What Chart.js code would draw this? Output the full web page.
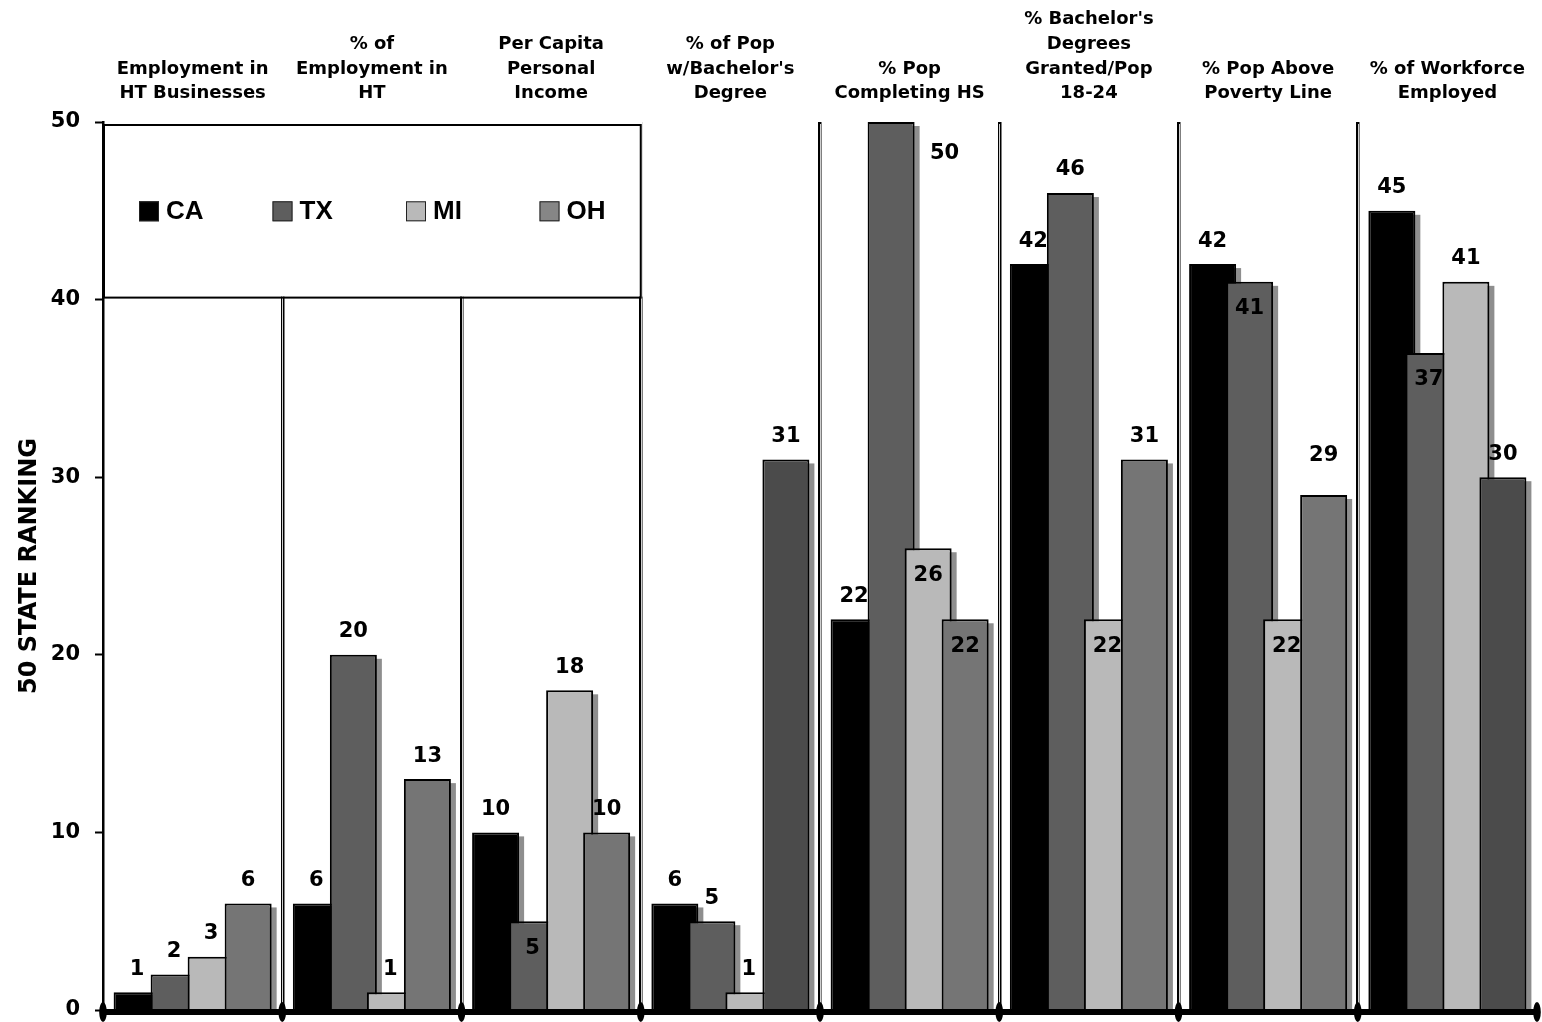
<!DOCTYPE html>
<html>
<head>
<meta charset="utf-8">
<title>50 State Ranking</title>
<script src="https://cdn.jsdelivr.net/npm/chart.js@4.4.1/dist/chart.umd.min.js"></script>
<style>
  html, body { margin: 0; padding: 0; background: #fff; overflow: hidden; }
  canvas { display: block; }
</style>
</head>
<body>
<canvas id="chart" width="1542" height="1022"></canvas>
<script>
// ---- data ----
const categories = [
  ['Employment in', 'HT Businesses'],
  ['% of', 'Employment in', 'HT'],
  ['Per Capita', 'Personal', 'Income'],
  ['% of Pop', "w/Bachelor's", 'Degree'],
  ['% Pop', 'Completing HS'],
  ["% Bachelor's", 'Degrees', 'Granted/Pop', '18-24'],
  ['% Pop Above', 'Poverty Line'],
  ['% of Workforce', 'Employed']
];
const seriesNames = ['CA', 'TX', 'MI', 'OH'];
const caRank = [1, 6, 10, 6, 22, 42, 42, 45];
const txRank = [2, 20, 5, 5, 50, 46, 41, 37];
const miRank = [3, 1, 18, 1, 26, 22, 22, 41];
const ohRank = [6, 13, 10, 31, 22, 31, 29, 30];
const yTicks = [0, 10, 20, 30, 40, 50];
const yTitle = '50 STATE RANKING';

// ---- styles ----
const FONT = "'DejaVu Sans', Verdana, sans-serif";
const LEGEND_FONT = "'Liberation Sans', Arial, sans-serif";
const caFill = '#000000';
const txFill = '#5e5e5e';
const miFill = '#b9b9b9';
const ohFill = ['#757575', '#757575', '#757575', '#4b4b4b', '#757575', '#757575', '#757575', '#4b4b4b'];
const legendFill = [caFill, txFill, miFill, '#868686'];
const SHADOW = '#8e8e8e';

// where each value label sits relative to its bar
const caPlace = ['above', 'above', 'above', 'above', 'above', 'above', 'above', 'above'];
const txPlace = ['above', 'above', 'inside', 'above', 'right', 'above', 'inside', 'inside'];
const miPlace = ['above', 'above', 'above', 'above', 'inside', 'inside', 'inside', 'above'];
const ohPlace = ['above', 'above', 'above', 'above', 'inside', 'above', 'high', 'above'];
const placements = [caPlace, txPlace, miPlace, ohPlace];

function categoryEdge(chart, i) {
  const xs = chart.scales.x, area = chart.chartArea;
  const n = chart.data.labels.length;
  if (i <= 0) return area.left;
  if (i >= n) return area.right;
  return (xs.getPixelForValue(i - 1) + xs.getPixelForValue(i)) / 2;
}

// Bars drawn left to right inside each group so the right-hand bar overlaps,
// each with an offset drop shadow underneath.
const shadedBars = {
  id: 'shadedBars',
  beforeDatasetsDraw(chart) {
    const ctx = chart.ctx, area = chart.chartArea;
    const n = chart.data.labels.length;
    ctx.save();
    // light core of the double category dividers
    ctx.strokeStyle = '#d0d0d0';
    ctx.lineWidth = 1;
    for (let i = 1; i < n; i++) {
      const bx = Math.round(categoryEdge(chart, i)) + 0.5;
      ctx.beginPath();
      ctx.moveTo(bx, area.top + 2);
      ctx.lineTo(bx, area.bottom);
      ctx.stroke();
    }
    chart.data.datasets.forEach((ds, di) => {
      const meta = chart.getDatasetMeta(di);
      meta.data.forEach(bar => {
        const p = bar.getProps(['x', 'y', 'base', 'width'], true);
        ctx.fillStyle = SHADOW;
        ctx.fillRect(p.x - p.width / 2 + 5, p.y + 4, p.width, p.base - p.y - 4);
        bar.draw(ctx, area);
      });
    });
    ctx.restore();
    return false;
  }
};

// Heavy baseline, category tick marks, boxed legend and value labels.
const overlay = {
  id: 'overlay',
  afterDraw(chart) {
    const ctx = chart.ctx, area = chart.chartArea;
    const ys = chart.scales.y;
    const n = chart.data.labels.length;
    const y0 = ys.getPixelForValue(0);
    ctx.save();

    // baseline
    ctx.fillStyle = '#000';
    ctx.fillRect(area.left, y0 - 1, area.right - area.left, 6);
    for (let i = 0; i <= n; i++) {
      const bx = categoryEdge(chart, i);
      ctx.beginPath();
      ctx.ellipse(bx, y0 + 2, 3.8, 10, 0, 0, Math.PI * 2);
      ctx.fill();
    }

    // legend box
    const boxL = area.left + 1;
    const boxR = categoryEdge(chart, 3);
    const boxT = area.top + 3;
    const boxB = ys.getPixelForValue(40) - 2;
    ctx.fillStyle = '#fff';
    ctx.fillRect(area.left + 2, area.top - 1, boxR - area.left, boxB - area.top);
    ctx.strokeStyle = '#000';
    ctx.lineWidth = 2;
    ctx.strokeRect(boxL, boxT, boxR - boxL, boxB - boxT);
    const midY = (boxT + boxB) / 2;
    ctx.font = `bold 26px ${LEGEND_FONT}`;
    ctx.textAlign = 'left';
    ctx.textBaseline = 'middle';
    chart.data.datasets.forEach((ds, di) => {
      const ix = boxL + 35 + di * 133.5;
      ctx.fillStyle = legendFill[di];
      ctx.fillRect(ix, midY - 10, 20, 20);
      ctx.strokeStyle = '#222';
      ctx.lineWidth = 1;
      ctx.strokeRect(ix + 0.5, midY - 9.5, 19, 19);
      ctx.fillStyle = '#000';
      ctx.fillText(ds.label, ix + 27, midY + 1);
    });

    // value labels
    ctx.font = `bold 21px ${FONT}`;
    ctx.textAlign = 'center';
    ctx.textBaseline = 'middle';
    ctx.fillStyle = '#000';
    chart.data.datasets.forEach((ds, di) => {
      const meta = chart.getDatasetMeta(di);
      meta.data.forEach((bar, i) => {
        const place = placements[di][i];
        let lx = bar.x, ly;
        if (place === 'above') ly = bar.y - 23;
        else if (place === 'high') ly = bar.y - 39;
        else if (place === 'inside') ly = bar.y + 27;
        else { lx = bar.x + bar.width / 2 + 30; ly = bar.y + 32; }
        ctx.fillText(String(ds.data[i]), lx, ly);
      });
    });
    ctx.restore();
  }
};

const barStyle = { borderColor: '#000', borderWidth: 2 };

new Chart(document.getElementById('chart'), {
  type: 'bar',
  data: {
    labels: categories,
    datasets: [
      { label: seriesNames[0], data: caRank, backgroundColor: caFill, ...barStyle },
      { label: seriesNames[1], data: txRank, backgroundColor: txFill, ...barStyle },
      { label: seriesNames[2], data: miRank, backgroundColor: miFill, ...barStyle },
      { label: seriesNames[3], data: ohRank, backgroundColor: ohFill, ...barStyle }
    ]
  },
  options: {
    responsive: false,
    animation: false,
    devicePixelRatio: 1,
    layout: { padding: { top: 0, left: 0, right: 5, bottom: 12 } },
    datasets: { bar: { categoryPercentage: 0.826, barPercentage: 1.27 } },
    plugins: { legend: { display: false }, tooltip: { enabled: false } },
    scales: {
      x: {
        position: 'top',
        grid: {
          offset: true,
          drawTicks: false,
          lineWidth: 3.5,
          color: c => (c.type !== 'tick' || c.index === 0) ? 'rgba(0,0,0,0)' : '#000'
        },
        border: { display: false },
        ticks: {
          autoSkip: false, maxRotation: 0, minRotation: 0, padding: 16, color: '#000',
          font: { family: FONT, size: 18, weight: 'bold', lineHeight: 1.37 }
        },
        afterFit: s => { s.height = 122; }
      },
      y: {
        min: yTicks[0],
        max: yTicks[yTicks.length - 1],
        ticks: {
          stepSize: yTicks[1] - yTicks[0], padding: 15, color: '#000',
          font: { family: FONT, size: 21, weight: 'bold' }
        },
        grid: { drawOnChartArea: false, drawTicks: true, tickLength: 8, tickColor: '#000', tickWidth: 2 },
        border: { display: true, color: '#000', width: 2.5 },
        title: {
          display: true, text: yTitle, color: '#000',
          font: { family: FONT, size: 24, weight: 'bold' },
          padding: { top: 15, bottom: 0 }
        },
        afterFit: s => { s.width = 103; s.paddingTop = 0; s.paddingBottom = 0; }
      }
    }
  },
  plugins: [shadedBars, overlay]
});
</script>
</body>
</html>
